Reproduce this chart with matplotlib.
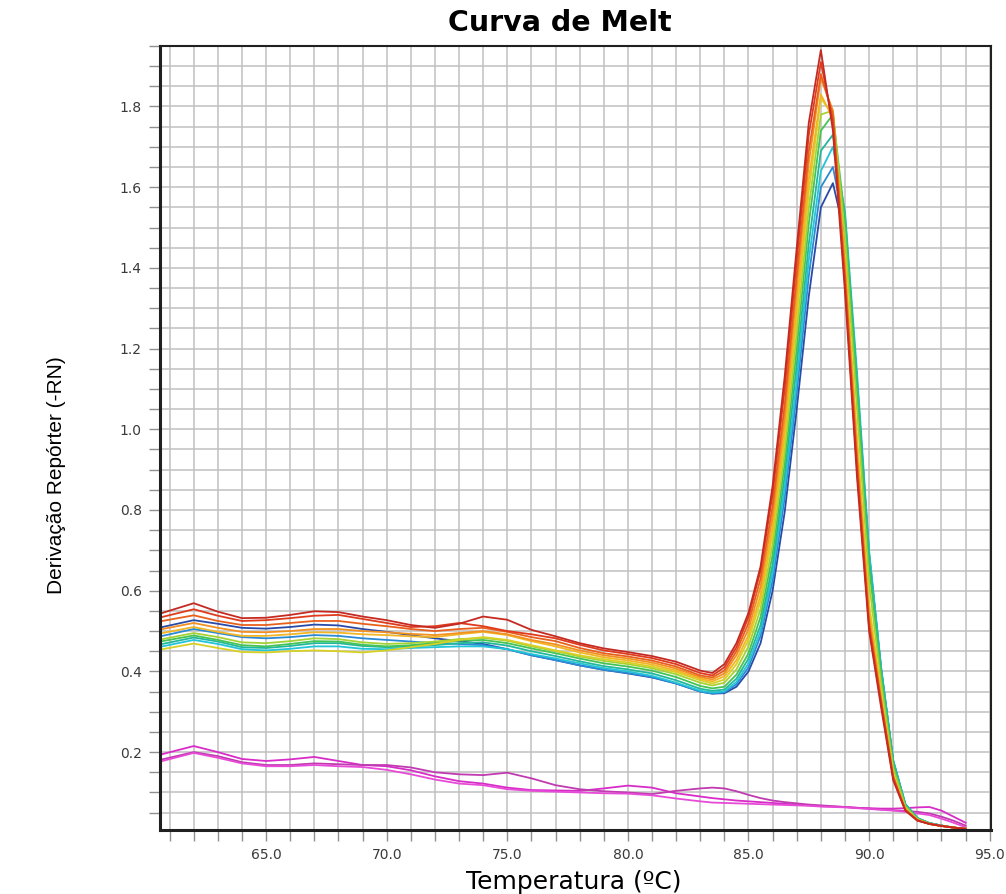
import matplotlib
matplotlib.use("Agg")
import matplotlib.pyplot as plt
from matplotlib.ticker import MultipleLocator, FormatStrFormatter

# temperature points (ºC)
temp = [60.7, 62, 63, 64, 65, 66, 67, 68, 69, 70, 71, 72, 73, 74, 75, 76, 77, 78, 79, 80, 81, 82, 83,
        83.5, 84, 84.5, 85, 85.5, 86, 86.5, 87, 87.5, 88, 88.5, 89, 89.5, 90, 90.5, 91, 91.5, 92, 92.5,
        93, 93.5, 94]

# derivative reporter per sample
red_dark = [0.545, 0.569, 0.548, 0.532, 0.533, 0.540, 0.549, 0.547, 0.536, 0.527, 0.515, 0.508, 0.518,
            0.536, 0.528, 0.503, 0.487, 0.470, 0.457, 0.448, 0.438, 0.424, 0.402,
            0.396, 0.418, 0.470, 0.545, 0.660, 0.860, 1.130, 1.450, 1.760, 1.940, 1.740, 1.340, 0.880,
            0.500, 0.310, 0.130, 0.055, 0.030, 0.022, 0.017, 0.013, 0.010]
red = [0.535, 0.554, 0.538, 0.525, 0.527, 0.532, 0.538, 0.540, 0.530, 0.520, 0.510, 0.512, 0.520,
       0.512, 0.500, 0.492, 0.482, 0.466, 0.452, 0.443, 0.433, 0.418, 0.396,
       0.390, 0.410, 0.460, 0.535, 0.650, 0.840, 1.100, 1.420, 1.730, 1.910, 1.760, 1.360, 0.900,
       0.510, 0.320, 0.135, 0.056, 0.031, 0.022, 0.017, 0.013, 0.010]
red_orange = [0.525, 0.539, 0.525, 0.515, 0.515, 0.520, 0.525, 0.525, 0.518, 0.512, 0.505, 0.500, 0.505,
              0.508, 0.498, 0.485, 0.475, 0.458, 0.445, 0.437, 0.427, 0.412, 0.390,
              0.385, 0.402, 0.450, 0.520, 0.630, 0.810, 1.060, 1.380, 1.690, 1.880, 1.780, 1.380, 0.920,
              0.520, 0.325, 0.138, 0.057, 0.031, 0.022, 0.017, 0.013, 0.010]
orange = [0.505, 0.520, 0.508, 0.498, 0.497, 0.500, 0.505, 0.505, 0.500, 0.497, 0.493, 0.490, 0.495,
          0.500, 0.492, 0.478, 0.467, 0.452, 0.440, 0.432, 0.422, 0.407, 0.386,
          0.380, 0.395, 0.440, 0.505, 0.610, 0.785, 1.030, 1.350, 1.660, 1.870, 1.790, 1.400, 0.940,
          0.535, 0.330, 0.140, 0.058, 0.032, 0.022, 0.017, 0.013, 0.010]
amber = [0.495, 0.510, 0.498, 0.488, 0.488, 0.492, 0.497, 0.496, 0.492, 0.490, 0.487, 0.485, 0.492,
         0.498, 0.490, 0.475, 0.462, 0.447, 0.435, 0.427, 0.417, 0.402, 0.382,
         0.375, 0.388, 0.428, 0.490, 0.590, 0.760, 1.000, 1.310, 1.620, 1.830, 1.770, 1.410, 0.960,
         0.550, 0.335, 0.142, 0.058, 0.032, 0.022, 0.017, 0.013, 0.010]
yellow = [0.455, 0.469, 0.458, 0.448, 0.447, 0.450, 0.452, 0.450, 0.447, 0.452, 0.460, 0.468, 0.478,
          0.485, 0.478, 0.465, 0.452, 0.440, 0.430, 0.422, 0.412, 0.398, 0.378,
          0.370, 0.380, 0.418, 0.478, 0.575, 0.740, 0.975, 1.280, 1.590, 1.820, 1.780, 1.430, 0.980,
          0.570, 0.345, 0.145, 0.059, 0.032, 0.022, 0.017, 0.013, 0.010]
lime = [0.480, 0.495, 0.485, 0.472, 0.470, 0.475, 0.482, 0.480, 0.472, 0.468, 0.470, 0.474, 0.480,
        0.483, 0.476, 0.462, 0.450, 0.437, 0.426, 0.418, 0.408, 0.393, 0.372,
        0.365, 0.372, 0.405, 0.462, 0.555, 0.715, 0.945, 1.240, 1.550, 1.780, 1.790, 1.480, 1.050,
        0.620, 0.370, 0.160, 0.065, 0.034, 0.023, 0.017, 0.013, 0.010]
green = [0.475, 0.489, 0.478, 0.465, 0.462, 0.468, 0.475, 0.474, 0.466, 0.462, 0.465, 0.470, 0.476,
         0.478, 0.470, 0.457, 0.445, 0.432, 0.420, 0.412, 0.402, 0.386, 0.364,
         0.358, 0.362, 0.392, 0.445, 0.535, 0.690, 0.915, 1.200, 1.510, 1.740, 1.780, 1.520, 1.100,
         0.660, 0.390, 0.170, 0.068, 0.035, 0.023, 0.017, 0.013, 0.010]
teal = [0.468, 0.484, 0.474, 0.460, 0.458, 0.463, 0.470, 0.470, 0.463, 0.460, 0.462, 0.465, 0.470,
        0.472, 0.464, 0.450, 0.438, 0.425, 0.413, 0.405, 0.395, 0.378, 0.357,
        0.352, 0.355, 0.382, 0.432, 0.515, 0.665, 0.885, 1.160, 1.460, 1.690, 1.730, 1.530, 1.120,
        0.680, 0.400, 0.175, 0.070, 0.036, 0.024, 0.018, 0.013, 0.010]
cyan = [0.462, 0.478, 0.468, 0.455, 0.452, 0.456, 0.462, 0.462, 0.456, 0.455, 0.458, 0.460, 0.462,
        0.462, 0.455, 0.443, 0.432, 0.420, 0.408, 0.400, 0.389, 0.372, 0.352,
        0.348, 0.350, 0.374, 0.420, 0.500, 0.645, 0.855, 1.120, 1.420, 1.640, 1.700, 1.540, 1.140,
        0.700, 0.410, 0.180, 0.072, 0.037, 0.024, 0.018, 0.013, 0.010]
sky = [0.488, 0.505, 0.495, 0.485, 0.482, 0.485, 0.490, 0.488, 0.482, 0.478, 0.474, 0.470, 0.468,
       0.465, 0.455, 0.440, 0.428, 0.415, 0.404, 0.396, 0.386, 0.370, 0.350,
       0.345, 0.348, 0.368, 0.410, 0.488, 0.625, 0.830, 1.090, 1.380, 1.600, 1.650, 1.500, 1.120,
       0.690, 0.405, 0.178, 0.071, 0.036, 0.024, 0.018, 0.013, 0.010]
navy = [0.510, 0.527, 0.518, 0.508, 0.506, 0.510, 0.516, 0.514, 0.505, 0.498, 0.490, 0.482, 0.475,
        0.468, 0.455, 0.440, 0.428, 0.415, 0.404, 0.395, 0.385, 0.370, 0.350,
        0.345, 0.346, 0.362, 0.400, 0.470, 0.600, 0.795, 1.050, 1.330, 1.550, 1.610, 1.480, 1.110,
        0.690, 0.405, 0.178, 0.071, 0.036, 0.024, 0.018, 0.013, 0.010]
# negative controls
ntc_a = [0.195, 0.215, 0.200, 0.183, 0.178, 0.182, 0.188, 0.178, 0.168, 0.165, 0.155, 0.140, 0.128,
         0.122, 0.112, 0.106, 0.105, 0.104, 0.110, 0.117, 0.112, 0.098, 0.090,
         0.086, 0.083, 0.080, 0.078, 0.076, 0.074, 0.072, 0.070, 0.068, 0.066, 0.065, 0.064, 0.062,
         0.061, 0.060, 0.060, 0.061, 0.063, 0.064, 0.055, 0.040, 0.025]
ntc_b = [0.182, 0.200, 0.190, 0.175, 0.168, 0.168, 0.172, 0.170, 0.168, 0.168, 0.162, 0.150, 0.145,
         0.143, 0.149, 0.135, 0.118, 0.108, 0.103, 0.100, 0.096, 0.104, 0.110,
         0.112, 0.110, 0.103, 0.094, 0.086, 0.080, 0.076, 0.073, 0.070, 0.068, 0.066, 0.064, 0.062,
         0.060, 0.058, 0.056, 0.054, 0.052, 0.048, 0.040, 0.030, 0.018]
ntc_c = [0.178, 0.198, 0.186, 0.172, 0.165, 0.165, 0.168, 0.165, 0.163, 0.156, 0.145, 0.132, 0.122,
         0.118, 0.108, 0.104, 0.102, 0.100, 0.098, 0.097, 0.093, 0.085, 0.078,
         0.075, 0.074, 0.073, 0.072, 0.071, 0.070, 0.069, 0.068, 0.067, 0.065, 0.064, 0.063, 0.061,
         0.059, 0.057, 0.055, 0.052, 0.048, 0.044, 0.035, 0.025, 0.014]

samples = [ntc_a, ntc_b, ntc_c, navy, sky, cyan, teal, green, lime, yellow, amber, orange,
           red_orange, red, red_dark]
colors = ['#d82cc8', '#c03ab0', '#e84ad8', '#2a4aa8', '#2a8ad6', '#22c4d8', '#22b89c', '#44c454',
          '#a6d234', '#d8d024', '#f2b624', '#f29020', '#e8601e', '#e03a1c', '#c42a22']

fig = plt.figure(figsize=(10.06, 8.94), dpi=100)
ax = fig.add_axes([0.159, 0.0716, 0.826, 0.877])

for s, c in zip(samples, colors):
    ax.plot(temp, s, color=c, lw=1.3)

ax.set_xlim(60.6, 95.05)
ax.set_ylim(0.007, 1.95)
ax.xaxis.set_minor_locator(MultipleLocator(1))
ax.yaxis.set_minor_locator(MultipleLocator(0.05))
ax.set_yticks([0.2, 0.4, 0.6, 0.8, 1.0, 1.2, 1.4, 1.6, 1.8])
ax.set_xticks([65, 70, 75, 80, 85, 90, 95])
ax.xaxis.set_major_formatter(FormatStrFormatter('%.1f'))
ax.yaxis.set_major_formatter(FormatStrFormatter('%.1f'))

ax.grid(True, which='both', color='#c0c0c0', lw=1.1)
ax.set_axisbelow(True)
ax.tick_params(which='both', length=8, width=1, color='#909090', labelsize=10,
               labelcolor='#3a3a3a')
ax.tick_params(axis='x', pad=5)
ax.tick_params(axis='y', pad=5)
for sp in ax.spines.values():
    sp.set_color('#202020')
    sp.set_linewidth(1.5)
ax.spines['left'].set_linewidth(2.2)
ax.spines['bottom'].set_linewidth(2.2)

fig.text(0.556, 0.974, 'Curva de Melt', ha='center', va='center', fontsize=20.5,
         fontweight='bold')
fig.text(0.570, 0.0134, 'Temperatura (ºC)', ha='center', va='center', fontsize=18)
fig.text(0.056, 0.468, 'Derivação Repórter (-RN)', ha='center', va='center', rotation=90,
         fontsize=15, family=['Liberation Sans Narrow', 'Liberation Sans', 'DejaVu Sans'])

fig.savefig('out.png', dpi=100, facecolor='white')
